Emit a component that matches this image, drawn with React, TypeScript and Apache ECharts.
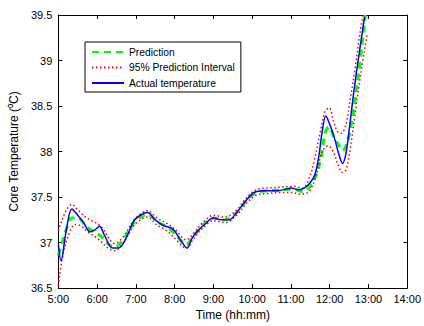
import React, { useEffect, useRef } from "react";
import * as echarts from "echarts";

// Actual temperature
const actualTime = [5.0, 5.07, 5.2, 5.35, 5.5, 5.65, 5.82, 5.95, 6.06, 6.2, 6.4, 6.55, 6.75, 6.95, 7.15, 7.3, 7.5, 7.7, 7.95, 8.15, 8.32, 8.45, 8.6, 8.8, 9.0, 9.2, 9.4, 9.6, 9.8, 10.05, 10.3, 10.65, 10.9, 11.0, 11.2, 11.35, 11.5, 11.62, 11.72, 11.8, 11.9, 12.0, 12.12, 12.25, 12.33, 12.42, 12.52, 12.62, 12.75, 12.9];
const actualTemp = [36.98, 36.8, 37.12, 37.37, 37.3, 37.22, 37.12, 37.14, 37.18, 37.07, 36.94, 36.94, 37.05, 37.24, 37.31, 37.33, 37.25, 37.19, 37.15, 37.03, 36.94, 37.05, 37.13, 37.21, 37.27, 37.25, 37.25, 37.33, 37.44, 37.55, 37.57, 37.57, 37.59, 37.6, 37.58, 37.6, 37.66, 37.75, 37.95, 38.2, 38.39, 38.3, 38.15, 37.95, 37.87, 37.98, 38.3, 38.65, 39.05, 39.48];

// Prediction
const predTime = [5.0, 5.1, 5.2, 5.35, 5.5, 5.7, 5.9, 6.1, 6.3, 6.45, 6.65, 6.85, 7.0, 7.3, 7.55, 7.8, 8.0, 8.3, 8.5, 8.75, 9.0, 9.3, 9.6, 9.85, 10.1, 10.4, 10.8, 11.05, 11.3, 11.5, 11.65, 11.78, 11.88, 11.98, 12.12, 12.25, 12.33, 12.45, 12.55, 12.65, 12.78, 12.92];
const predTemp = [36.86, 37.0, 37.14, 37.27, 37.27, 37.19, 37.12, 37.07, 36.98, 36.95, 37.02, 37.15, 37.24, 37.31, 37.23, 37.17, 37.1, 36.98, 37.08, 37.2, 37.27, 37.25, 37.33, 37.46, 37.55, 37.57, 37.58, 37.59, 37.56, 37.62, 37.74, 37.94, 38.2, 38.27, 38.15, 38.06, 38.01, 38.1, 38.28, 38.55, 38.98, 39.5];

// 95% prediction interval, upper bound
const upperTime = [5.0, 5.1, 5.2, 5.35, 5.5, 5.7, 5.86, 6.0, 6.16, 6.3, 6.45, 6.65, 6.85, 7.0, 7.3, 7.55, 7.8, 8.0, 8.3, 8.5, 8.75, 9.0, 9.3, 9.6, 9.85, 10.1, 10.4, 10.8, 11.05, 11.3, 11.48, 11.6, 11.75, 11.88, 11.99, 12.1, 12.2, 12.3, 12.42, 12.52, 12.65, 12.78, 12.88];
const upperTemp = [37.13, 37.25, 37.35, 37.42, 37.36, 37.28, 37.24, 37.21, 37.15, 37.05, 36.99, 37.05, 37.18, 37.27, 37.35, 37.27, 37.21, 37.15, 37.03, 37.11, 37.23, 37.3, 37.28, 37.36, 37.49, 37.58, 37.6, 37.61, 37.62, 37.6, 37.72, 37.9, 38.2, 38.44, 38.48, 38.33, 38.22, 38.2, 38.3, 38.55, 38.9, 39.3, 39.55];

// 95% prediction interval, lower bound
const lowerTime = [5.0, 5.1, 5.23, 5.44, 5.6, 5.75, 6.03, 6.28, 6.45, 6.65, 6.85, 7.0, 7.3, 7.55, 7.8, 8.0, 8.3, 8.5, 8.75, 9.0, 9.3, 9.6, 9.85, 10.1, 10.4, 10.8, 11.05, 11.2, 11.4, 11.5, 11.64, 11.77, 11.88, 11.97, 12.1, 12.22, 12.33, 12.42, 12.52, 12.65, 12.8, 12.97];
const lowerTemp = [36.53, 36.82, 37.04, 37.2, 37.18, 37.12, 37.04, 36.94, 36.91, 36.98, 37.12, 37.21, 37.28, 37.19, 37.13, 37.05, 36.94, 37.05, 37.17, 37.24, 37.22, 37.3, 37.43, 37.52, 37.54, 37.55, 37.55, 37.53, 37.54, 37.58, 37.72, 37.95, 38.05, 38.06, 37.99, 37.85, 37.77, 37.8, 38.0, 38.4, 38.85, 39.3];

const xTicks = [5, 6, 7, 8, 9, 10, 11, 12, 13, 14];

const pairs = (t: number[], v: number[]) => t.map((x, i) => [x, v[i]]);

const FONT = "'Liberation Sans', Arial, sans-serif";

export default function App() {
  const ref = useRef<HTMLDivElement>(null);
  useEffect(() => {
    if (!ref.current) return;
    const chart = echarts.init(ref.current, undefined, { renderer: "svg" });
    const axisCommon = {
      axisLine: { show: true, onZero: false, lineStyle: { color: "#000", width: 1 } },
      axisTick: { show: true, inside: true, length: 4, lineStyle: { color: "#000" } },
      splitLine: { show: false },
    };
    chart.setOption({
      animation: false,
      backgroundColor: "#fff",
      textStyle: { fontFamily: FONT },
      grid: { left: 56, right: 13, top: 15, bottom: 33, containLabel: false },
      legend: {
        orient: "vertical",
        left: 85,
        top: 42,
        backgroundColor: "#fff",
        borderColor: "#000",
        borderWidth: 1,
        borderRadius: 0,
        padding: [5, 6, 4, 6],
        itemWidth: 32,
        itemHeight: 10,
        itemGap: 5.5,
        itemStyle: { color: "rgba(0,0,0,0)", borderWidth: 0, opacity: 0 },
        textStyle: { fontSize: 10.3, color: "#000", fontFamily: FONT },
        data: ["Prediction", "95% Prediction Interval", "Actual temperature"],
      },
      xAxis: [
        {
          type: "value",
          min: 5,
          max: 14,
          interval: 1,
          name: "Time (hh:mm)",
          nameLocation: "middle",
          nameGap: 19,
          nameTextStyle: { fontSize: 12, color: "#000", fontFamily: FONT },
          ...axisCommon,
          axisLabel: {
            color: "#000",
            fontSize: 11,
            margin: 5,
            fontFamily: FONT,
            formatter: (v: number) => (xTicks.includes(v) ? `${v}:00` : ""),
          },
        },
        {
          type: "value",
          position: "top",
          min: 5,
          max: 14,
          interval: 1,
          ...axisCommon,
          axisLabel: { show: false },
        },
      ],
      yAxis: [
        {
          type: "value",
          min: 36.5,
          max: 39.5,
          interval: 0.5,
          name: "Core Temperature (\u2070C)",
          nameLocation: "middle",
          nameGap: 32,
          nameTextStyle: { fontSize: 12, color: "#000", fontFamily: FONT },
          ...axisCommon,
          axisLabel: { color: "#000", fontSize: 11, margin: 6, fontFamily: FONT },
        },
        {
          type: "value",
          position: "right",
          min: 36.5,
          max: 39.5,
          interval: 0.5,
          ...axisCommon,
          axisLabel: { show: false },
        },
      ],
      series: [
        {
          name: "Prediction",
          type: "line",
          data: pairs(predTime, predTemp),
          smooth: 0.35,
          symbol: "none",
          color: "#00ff00",
          lineStyle: { color: "#00ff00", width: 3, type: [7, 5] },
          z: 2,
        },
        {
          name: "95% Prediction Interval",
          type: "line",
          data: pairs(upperTime, upperTemp),
          smooth: 0.35,
          symbol: "none",
          color: "#ff0000",
          lineStyle: { color: "#ff0000", width: 1.5, type: [1.5, 2.5] },
          z: 3,
        },
        {
          name: "95% Prediction Interval",
          type: "line",
          data: pairs(lowerTime, lowerTemp),
          smooth: 0.35,
          symbol: "none",
          color: "#ff0000",
          lineStyle: { color: "#ff0000", width: 1.5, type: [1.5, 2.5] },
          z: 3,
        },
        {
          name: "Actual temperature",
          type: "line",
          data: pairs(actualTime, actualTemp),
          smooth: 0.35,
          symbol: "none",
          color: "#0000ff",
          lineStyle: { color: "#0000ff", width: 1.5 },
          z: 4,
        },
      ],
    });
    return () => chart.dispose();
  }, []);
  return (
    <div
      ref={ref}
      style={{ position: "fixed", left: 0, top: 0, width: 424, height: 326, background: "#fff" }}
    />
  );
}
